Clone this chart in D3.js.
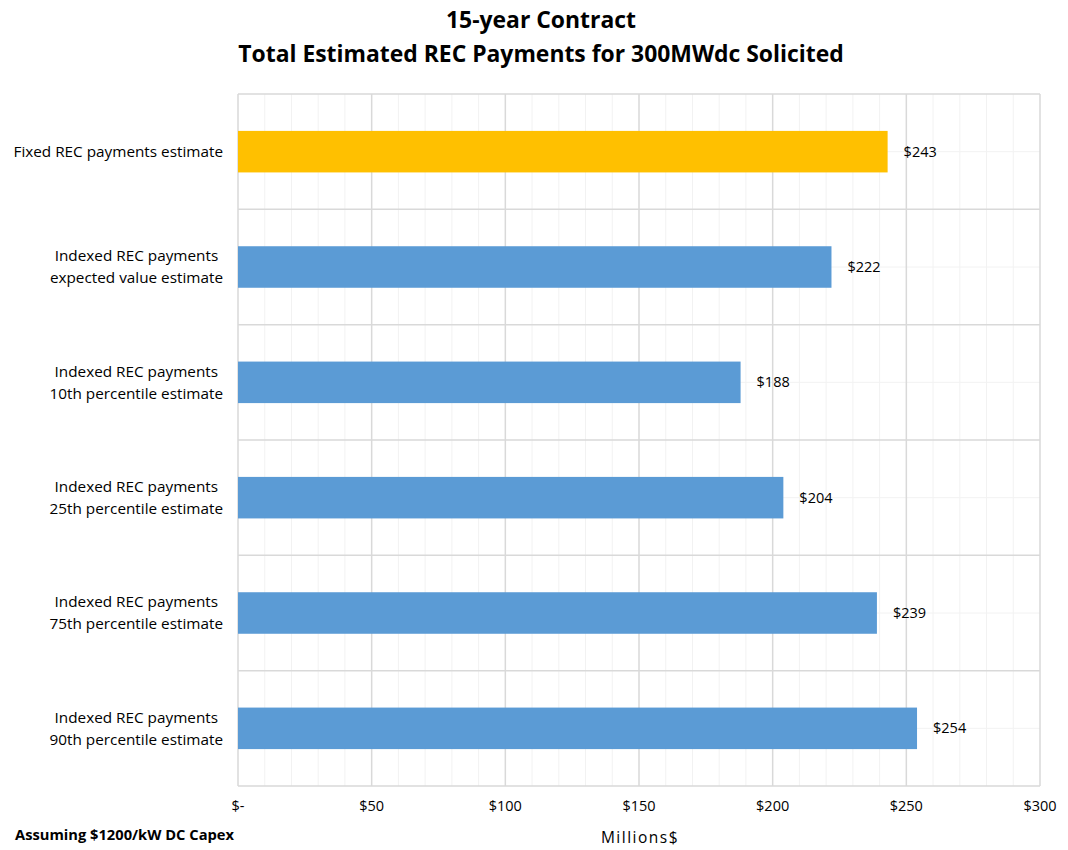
<!DOCTYPE html>
<html>
<head>
<meta charset="utf-8">
<script src="https://cdn.jsdelivr.net/npm/d3@7"></script>
<style>
  body { margin: 0; background: #fff; }
  text { font-family: "Open Sans", sans-serif; fill: #000; }
</style>
</head>
<body>
<div id="chart"></div>
<script>
// categories top to bottom, each label split into lines
const categories = [
    ["Fixed REC payments estimate"],
    ["Indexed REC payments", "expected value estimate"],
    ["Indexed REC payments", "10th percentile estimate"],
    ["Indexed REC payments", "25th percentile estimate"],
    ["Indexed REC payments", "75th percentile estimate"],
    ["Indexed REC payments", "90th percentile estimate"]
];
const payments = [243, 222, 188, 204, 239, 254];
const barColors = ["#FFC000", "#5B9BD5", "#5B9BD5", "#5B9BD5", "#5B9BD5", "#5B9BD5"];
const xTicks = [0, 50, 100, 150, 200, 250, 300];
const titleLines = ["15-year Contract", "Total Estimated REC Payments for 300MWdc Solicited"];

const w = 1068, h = 850;
const plotL = 238, plotR = 1040, plotT = 94, plotB = 786;

let svg = d3.select("#chart")
    .append("svg")
    .attr("width", w)
    .attr("height", h);

let xScale = d3.scaleLinear()
    .domain([0, 300])
    .range([plotL, plotR]);

let yScale = d3.scaleBand()
    .domain(d3.range(categories.length))
    .range([plotT, plotB])
    .paddingInner(0.64)
    .paddingOuter(0.32);

let band = d3.scaleBand()
    .domain(d3.range(categories.length))
    .range([plotT, plotB]);

// minor vertical grid every 10
svg.append("g")
    .selectAll("line")
    .data(d3.range(0, 301, 10).filter(v => v % 50 != 0))
    .enter().append("line")
    .attr("x1", d => xScale(d)).attr("x2", d => xScale(d))
    .attr("y1", plotT).attr("y2", plotB)
    .attr("stroke", "#f2f2f2").attr("stroke-width", 1);

// minor horizontal grid at category centres
svg.append("g")
    .selectAll("line")
    .data(d3.range(categories.length))
    .enter().append("line")
    .attr("x1", plotL).attr("x2", plotR)
    .attr("y1", d => band(d) + band.bandwidth() / 2)
    .attr("y2", d => band(d) + band.bandwidth() / 2)
    .attr("stroke", "#f2f2f2").attr("stroke-width", 1);

// major vertical grid
svg.append("g")
    .selectAll("line")
    .data(xTicks)
    .enter().append("line")
    .attr("x1", d => xScale(d)).attr("x2", d => xScale(d))
    .attr("y1", plotT).attr("y2", plotB)
    .attr("stroke", "#d9d9d9").attr("stroke-width", 1.5);

// major horizontal grid at band edges
svg.append("g")
    .selectAll("line")
    .data(d3.range(categories.length + 1))
    .enter().append("line")
    .attr("x1", plotL).attr("x2", plotR)
    .attr("y1", d => plotT + d * band.bandwidth())
    .attr("y2", d => plotT + d * band.bandwidth())
    .attr("stroke", "#d9d9d9").attr("stroke-width", 1.5);

// bars
svg.append("g")
    .selectAll("rect")
    .data(payments)
    .enter().append("rect")
    .attr("x", xScale(0))
    .attr("y", (d, i) => yScale(i))
    .attr("width", d => xScale(d) - xScale(0))
    .attr("height", yScale.bandwidth())
    .attr("fill", (d, i) => barColors[i]);

// value labels
svg.append("g")
    .selectAll("text")
    .data(payments)
    .enter().append("text")
    .attr("x", d => xScale(d) + 16)
    .attr("y", (d, i) => yScale(i) + yScale.bandwidth() / 2)
    .attr("dy", "0.35em")
    .attr("font-size", 14.5)
    .text(d => "$" + d);

// category labels: block right-aligned, lines centred
categories.forEach((lines, i) => {
    let cy = band(i) + band.bandwidth() / 2;
    let g = svg.append("g");
    let texts = lines.map((s, j) => g.append("text")
        .attr("y", cy + (j - (lines.length - 1) / 2) * 22)
        .attr("dy", "0.35em")
        .attr("font-size", 15.3)
        .attr("text-anchor", "middle")
        .text(s));
    let maxW = d3.max(texts, t => t.node().getComputedTextLength());
    texts.forEach(t => t.attr("x", 223 - maxW / 2));
});

// x axis labels
svg.append("g")
    .selectAll("text")
    .data(xTicks)
    .enter().append("text")
    .attr("x", d => xScale(d))
    .attr("y", 806)
    .attr("dy", "0.35em")
    .attr("text-anchor", "middle")
    .attr("font-size", 14.5)
    .text(d => d == 0 ? "$-" : "$" + d);

svg.append("text")
    .attr("x", 640).attr("y", 838)
    .attr("dy", "0.35em")
    .attr("text-anchor", "middle")
    .attr("font-size", 15.5)
    .attr("letter-spacing", 1.5)
    .text("Millions$");

svg.append("text")
    .attr("x", 15).attr("y", 835)
    .attr("dy", "0.35em")
    .attr("font-size", 14.7)
    .attr("font-weight", "bold")
    .text("Assuming $1200/kW DC Capex");

// title
svg.append("g")
    .selectAll("text")
    .data(titleLines)
    .enter().append("text")
    .attr("x", 541)
    .attr("y", (d, i) => 20 + i * 34)
    .attr("dy", "0.35em")
    .attr("text-anchor", "middle")
    .attr("font-size", 22.9)
    .attr("font-weight", "bold")
    .text(d => d);
</script>
</body>
</html>
